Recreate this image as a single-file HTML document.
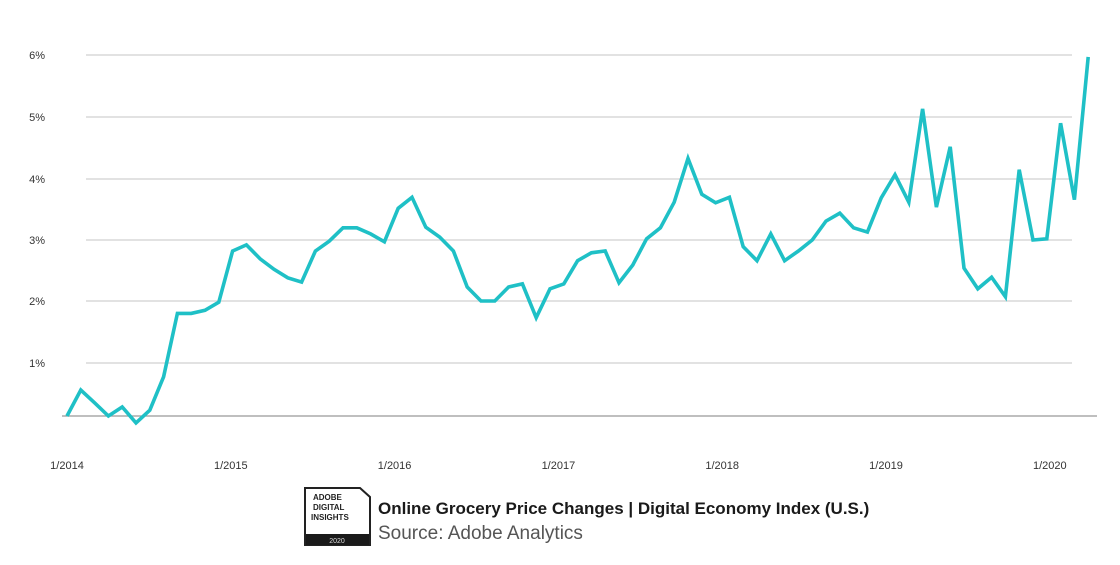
<!DOCTYPE html>
<html><head><meta charset="utf-8"><style>
body{margin:0;background:#fff;width:1120px;height:560px;overflow:hidden;font-family:"Liberation Sans",sans-serif}
</style></head><body>
<svg width="1120" height="560">
<g id="grid"></g>
<g id="ylab"></g>
<g id="xlab"></g>
<path id="line" fill="none" stroke="#1fc0c6" stroke-width="3.6" stroke-linejoin="miter"/>
<g>
<path d="M305 488 H360 L370 497 V545 H305 Z" fill="#fff" stroke="#222" stroke-width="2"/>
<rect x="306" y="534" width="63" height="11" fill="#1a1a1a"/>
<text x="313" y="500" font-size="8" font-weight="bold" fill="#222">ADOBE</text>
<text x="313" y="510" font-size="8" font-weight="bold" fill="#222">DIGITAL</text>
<text x="311" y="520" font-size="8" font-weight="bold" fill="#222">INSIGHTS</text>
<text x="337" y="543" font-size="7" fill="#ddd" text-anchor="middle">2020</text>
</g>
<text x="378" y="514" font-size="17" font-weight="bold" fill="#1a1a1a">Online Grocery Price Changes | Digital Economy Index (U.S.)</text>
<text x="378" y="539" font-size="19" fill="#555">Source: Adobe Analytics</text>
</svg>
<script>
const values=[0,0.49,0.25,0,0.17,-0.13,0.11,0.74,1.8,1.8,1.85,1.98,2.82,2.92,2.69,2.52,2.38,2.31,2.82,2.98,3.2,3.2,3.1,2.97,3.52,3.70,
3.21,3.05,2.82,2.23,2.0,2.0,2.23,2.28,1.73,2.2,2.28,2.66,2.79,2.82,2.3,2.59,3.02,3.2,3.62,4.33,3.75,3.61,3.70,2.89,2.66,3.1,
2.66,2.82,3.0,3.31,3.44,3.2,3.13,3.69,4.07,3.62,5.13,3.54,4.52,2.54,2.2,2.39,2.07,4.15,3.0,3.02,4.9,3.66,5.97];
const yTicks=[1,2,3,4,5,6];
const yTickLabels=["1%","2%","3%","4%","5%","6%"];
const xTickIdx=[0,12,24,36,48,60,72];
const xTickLabels=["1/2014","1/2015","1/2016","1/2017","1/2018","1/2019","1/2020"];
const NS="http://www.w3.org/2000/svg";
const yStops=[416,363,301,240,179,117,55];
function y(v){const i=Math.max(0,Math.min(5,Math.floor(v)));return yStops[i]+(v-i)*(yStops[i+1]-yStops[i]);}
function x(i){return 67+i*13.8;}
function xl(i){return 67+i*13.65;}
function mk(t,a,p){const e=document.createElementNS(NS,t);for(const k in a)e.setAttribute(k,a[k]);p.appendChild(e);return e;}
const grid=document.getElementById('grid'),yl=document.getElementById('ylab'),xlg=document.getElementById('xlab');
yTicks.forEach((t,k)=>{
 const g=mk('line',{x1:86,x2:1072,y1:y(t),y2:y(t),stroke:'#d8d8d8','stroke-width':1.5},grid);
 
 
 const tx=mk('text',{x:45,y:y(t)+4,'font-size':11,fill:'#333','text-anchor':'end'},yl);
 tx.textContent=yTickLabels[k];
 
 
});
const z=mk('line',{x1:62,x2:1097,y1:y(0),y2:y(0),stroke:'#999','stroke-width':1.2},grid);


xTickIdx.forEach((t,k)=>{
 const tx=mk('text',{x:xl(t),y:469,'font-size':11,fill:'#333','text-anchor':'middle'},xlg);
 tx.textContent=xTickLabels[k];
 
 
});
document.getElementById('line').setAttribute('d',values.map((v,i)=>(i?'L':'M')+x(i).toFixed(1)+' '+y(v).toFixed(1)).join(' '));
</script>
</body></html>
